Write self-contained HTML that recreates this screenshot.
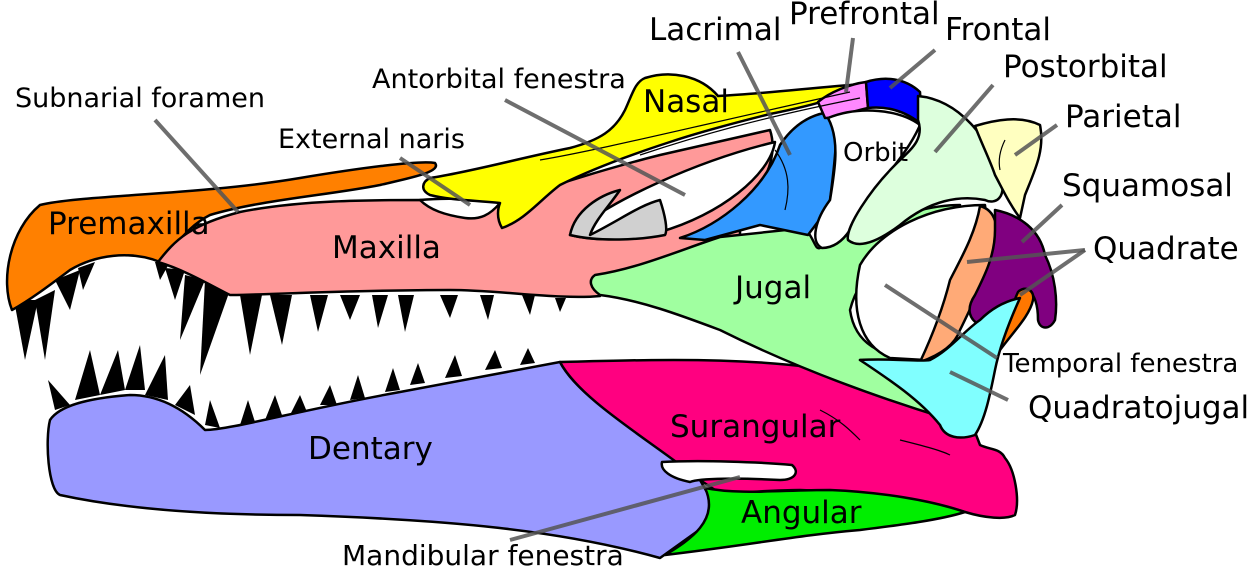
<!DOCTYPE html>
<html><head><meta charset="utf-8"><style>
html,body{margin:0;padding:0;background:#fff;width:1247px;height:567px;overflow:hidden}
svg{display:block}
text{font-family:"DejaVu Sans","Liberation Sans",sans-serif;fill:#000}
</style></head><body>
<svg width="1247" height="567" viewBox="0 0 1247 567" xmlns="http://www.w3.org/2000/svg">
<g stroke="#000" stroke-width="2.5" stroke-linejoin="round">
<!-- lower teeth -->
<g fill="#000" stroke="none">
<polygon points="55,410 48,380 70,405"/><polygon points="75,400 90,350 100,395"/><polygon points="100,395 118,350 125,390"/>
<polygon points="125,390 140,345 145,390"/><polygon points="145,395 165,355 168,400"/><polygon points="175,405 190,385 195,415"/>
<polygon points="205,425 210,400 220,428"/><polygon points="240,425 248,400 255,422"/><polygon points="265,420 275,395 283,418"/>
<polygon points="290,415 300,395 307,412"/><polygon points="320,405 330,385 337,405"/><polygon points="350,400 358,375 365,398"/>
<polygon points="385,392 393,368 400,390"/><polygon points="410,385 418,363 425,383"/><polygon points="445,378 455,355 462,376"/>
<polygon points="485,370 495,350 502,368"/><polygon points="520,365 528,348 535,363"/>
</g>
<!-- upper teeth -->
<g fill="#000" stroke="none">
<polygon points="14,300 25,360 38,300"/><polygon points="35,300 45,360 55,290"/><polygon points="55,280 70,310 80,270"/>
<polygon points="78,268 83,290 95,262"/><polygon points="155,262 160,280 170,262"/>
<polygon points="165,268 175,300 185,270"/><polygon points="185,275 180,340 205,280"/><polygon points="205,280 200,375 230,290"/>
<polygon points="240,295 250,355 262,295"/><polygon points="270,295 282,345 292,295"/><polygon points="310,295 318,332 328,295"/>
<polygon points="340,295 350,320 360,295"/><polygon points="372,295 378,328 388,295"/><polygon points="398,295 405,332 414,295"/>
<polygon points="440,295 450,318 458,295"/><polygon points="480,295 488,320 494,295"/><polygon points="522,295 530,315 535,295"/>
<polygon points="555,298 560,312 566,298"/>
</g>
<!-- dentary -->
<path fill="#9999FF" d="M50,420 C60,405 90,398 130,395 C160,395 185,410 205,430 C230,430 300,410 400,392 L560,362 C580,400 640,430 700,480 L720,515 L660,558 C560,530 450,520 300,515 C200,515 120,508 60,495 C48,490 45,440 50,420 Z"/>
<!-- surangular -->
<path fill="#FF0080" d="M560,362 C650,360 760,355 860,375 C900,395 930,410 945,425 L975,432 L980,445 C990,450 1000,448 1005,458 C1015,470 1020,500 1015,515 C1005,520 985,518 965,512 C920,498 860,492 800,490 C760,490 735,495 715,490 L700,480 C650,440 580,400 560,362 Z"/>
<!-- angular -->
<path fill="#00EE00" d="M705,488 C740,495 780,490 830,490 C880,492 930,500 965,512 C940,520 900,525 860,530 C800,535 750,545 665,555 C690,540 720,520 705,488 Z"/>
<path fill="#fff" d="M662,462 C700,460 760,462 792,465 C800,472 795,480 780,480 C740,478 700,478 690,482 C670,478 660,470 662,462 Z"/>
<!-- premaxilla -->
<path fill="#FF8000" d="M12,310 C0,280 10,230 40,205 C80,195 200,195 300,178 C360,168 420,160 435,163 C442,172 410,178 380,185 C330,195 260,200 210,215 C190,225 180,240 160,262 C130,250 95,255 70,270 C50,285 30,300 12,310 Z"/>
<!-- maxilla -->
<path fill="#FF9999" d="M158,262 C175,240 190,225 240,212 C300,200 370,200 420,200 L500,203 C540,190 600,170 660,155 L770,130 C780,160 760,190 740,215 L740,235 L700,245 L660,270 L595,280 L600,296 C560,300 500,290 450,290 C350,290 260,295 230,295 C210,285 185,270 158,262 Z"/>
<path fill="#fff" d="M420,200 C440,198 480,198 500,203 C490,215 480,220 465,218 C445,215 430,210 420,200 Z"/>
<!-- jugal -->
<path fill="#A0FFA0" d="M595,275 C640,268 680,250 720,237 L805,228 C815,240 815,250 820,248 C840,240 850,230 870,225 C900,215 930,205 960,205 C900,235 860,270 850,310 C855,345 880,355 920,362 L860,360 C900,385 930,400 945,418 C880,398 800,370 720,330 C680,315 640,300 600,295 C590,288 588,280 595,275 Z"/>
<!-- antorbital fenestra -->
<path fill="#fff" d="M570,235 C610,200 700,160 775,142 C770,175 720,215 660,232 C620,242 590,240 570,235 Z"/>
<path fill="#D0D0D0" d="M570,235 C575,210 600,195 620,190 C610,205 595,220 590,235 C620,220 640,205 660,200 C665,215 668,230 665,235 C640,240 600,242 570,235 Z"/>
<!-- lacrimal -->
<path fill="#3399FF" d="M680,238 C720,225 765,190 780,145 C790,130 805,115 830,112 C840,125 835,160 830,200 C825,215 815,225 808,235 L760,225 L705,240 Z"/>
<!-- nasal -->
<path fill="#FFFF00" d="M430,178 C470,172 520,158 570,148 C600,140 615,130 625,110 C632,95 635,82 645,78 C670,70 700,75 718,96 C760,94 810,88 862,84 C850,96 810,106 770,114 C730,124 700,132 670,142 C630,155 590,170 560,185 C540,200 525,220 502,228 C496,218 498,208 500,203 C470,200 450,200 430,195 C420,190 422,182 430,178 Z"/>
<!-- prefrontal -->
<path fill="#FF88FF" d="M818,102 C830,92 850,84 866,82 L868,108 C850,112 835,118 825,118 Z"/>
<!-- frontal -->
<path fill="#0000FF" d="M866,82 C885,76 905,78 920,92 L922,125 C905,110 885,106 868,108 Z"/>
<!-- orbit white -->
<path fill="#fff" d="M828,118 C860,105 900,110 920,125 C905,160 870,190 850,230 C840,245 830,248 822,248 C810,242 815,220 830,200 C835,170 840,140 828,118 Z"/>
<!-- postorbital -->
<path fill="#DDFFDD" d="M918,96 C960,100 990,140 1000,175 C1008,198 995,205 985,200 C960,195 930,200 900,225 C880,240 860,250 848,240 C845,228 870,190 895,165 C910,150 925,140 918,120 Z"/>
<!-- parietal -->
<path fill="#FFFFC0" d="M975,126 C995,120 1020,115 1040,125 C1045,150 1035,170 1025,195 L1020,218 C1010,205 1003,190 995,175 C990,160 980,140 975,126 Z"/>
<!-- temporal fenestra -->
<path fill="#fff" d="M860,265 C880,230 930,205 985,205 C990,240 975,265 955,290 C945,320 935,345 925,360 L890,358 C860,345 850,310 860,265 Z"/>
<!-- peach -->
<path fill="#FFAA77" d="M980,206 C995,210 1000,225 995,255 C985,275 975,300 960,330 C955,345 940,355 920,362 C935,330 945,300 950,280 C960,260 975,235 980,206 Z"/>
<!-- squamosal -->
<path fill="#800080" d="M995,210 C1020,215 1040,230 1045,255 C1055,275 1058,300 1055,320 C1050,330 1040,330 1038,320 C1038,305 1035,295 1028,290 C1015,300 1000,310 980,325 C970,320 965,310 975,295 C985,275 995,255 995,230 Z"/>
<!-- quadrate small -->
<path fill="#FF7700" d="M1018,292 C1025,285 1035,290 1033,300 C1030,315 1015,330 1000,350 C1005,330 1012,305 1018,292 Z"/>
<!-- quadratojugal -->
<path fill="#80FFFF" d="M860,360 C890,358 920,362 930,360 C950,350 965,330 980,320 C995,305 1010,300 1020,298 C1010,320 1000,345 995,370 C990,395 985,420 975,435 C960,440 945,438 940,425 C920,400 890,380 860,360 Z"/>
</g>
<!-- thin lines -->
<g stroke="#000" stroke-width="1.2" fill="none">
<path d="M540,160 C600,150 700,125 850,92"/><path d="M640,155 C700,135 760,118 860,98"/>
<path d="M775,150 C790,170 790,190 785,210"/><path d="M820,410 C840,420 850,430 860,440"/>
<path d="M1005,140 C1000,150 998,160 1000,170"/><path d="M900,440 C920,445 940,450 950,455"/>
</g>
<!-- leader lines -->
<g stroke="#555" stroke-width="4" stroke-opacity="0.85" fill="none">
<line x1="155" y1="120" x2="238" y2="212"/><line x1="400" y1="158" x2="470" y2="205"/>
<line x1="505" y1="100" x2="685" y2="195"/><line x1="738" y1="52" x2="790" y2="155"/>
<line x1="853" y1="38" x2="846" y2="92"/><line x1="935" y1="50" x2="890" y2="88"/>
<line x1="993" y1="85" x2="935" y2="152"/><line x1="1057" y1="125" x2="1015" y2="155"/>
<line x1="1062" y1="205" x2="1022" y2="242"/><line x1="1085" y1="250" x2="967" y2="262"/>
<line x1="1085" y1="250" x2="1020" y2="295"/><line x1="885" y1="285" x2="997" y2="358"/>
<line x1="950" y1="372" x2="1008" y2="400"/><line x1="510" y1="540" x2="740" y2="477"/>
</g>
<!-- labels -->
<g font-size="27">
<text x="15" y="107">Subnarial foramen</text>
<text x="372" y="88">Antorbital fenestra</text>
<text x="278" y="148">External naris</text>
<text x="649" y="40" font-size="31">Lacrimal</text>
<text x="789" y="24" font-size="31">Prefrontal</text>
<text x="945" y="40" font-size="31">Frontal</text>
<text x="1003" y="77" font-size="31">Postorbital</text>
<text x="1065" y="127" font-size="31">Parietal</text>
<text x="1062" y="196" font-size="31">Squamosal</text>
<text x="1093" y="259" font-size="31">Quadrate</text>
<text x="1003" y="372" font-size="26">Temporal fenestra</text>
<text x="1028" y="418" font-size="31">Quadratojugal</text>
<text x="48" y="234" font-size="31">Premaxilla</text>
<text x="332" y="258" font-size="31">Maxilla</text>
<text x="643" y="112" font-size="31">Nasal</text>
<text x="843" y="161" font-size="26">Orbit</text>
<text x="735" y="298" font-size="31">Jugal</text>
<text x="670" y="437" font-size="31">Surangular</text>
<text x="308" y="459" font-size="31">Dentary</text>
<text x="741" y="523" font-size="31">Angular</text>
<text x="342" y="565" font-size="28">Mandibular fenestra</text>
</g>
</svg>
</body></html>
